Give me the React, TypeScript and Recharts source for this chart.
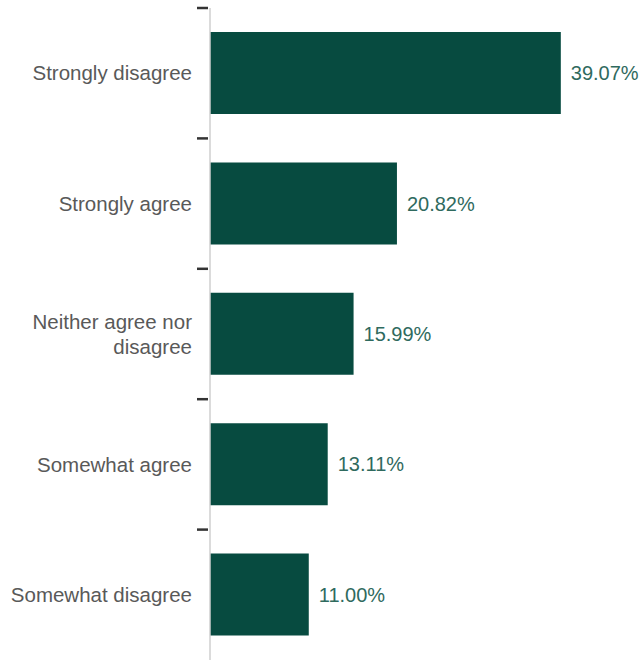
import React from 'react';
import { BarChart, Bar, XAxis, YAxis, LabelList } from 'recharts';

const categories = ['Strongly disagree', 'Strongly agree', 'Neither agree nor disagree', 'Somewhat agree', 'Somewhat disagree'];
const shares = [39.07, 20.82, 15.99, 13.11, 11.0];
const labelLines: Record<string, string[]> = {
  'Neither agree nor disagree': ['Neither agree nor', 'disagree'],
};

const data = categories.map((name, i) => ({ name, value: shares[i] }));

const FONT = '"Liberation Sans", Arial, sans-serif';

function CategoryTick(props: any) {
  const { x, y, payload } = props;
  const half = payload.offset || 65.2;
  const lines = labelLines[payload.value] || [payload.value];
  const lineH = 25;
  const startY = y - ((lines.length - 1) * lineH) / 2;
  return (
    <g>
      <line x1={x + 5} x2={x + 16} y1={y - half} y2={y - half} stroke="#333" strokeWidth={2.5} />
      <text textAnchor="end" fill="#595959" fontSize={20.5} fontFamily={FONT}>
        {lines.map((t, i) => (
          <tspan key={i} x={x} y={startY + i * lineH} dy="0.35em">{t}</tspan>
        ))}
      </text>
    </g>
  );
}

export default function App() {
  return (
    <div style={{ position: 'absolute', left: 0, top: 0, background: '#fff' }}>
      {/* Agreement breakdown */}
      <BarChart
        width={643}
        height={660}
        data={data}
        layout="vertical"
        margin={{ top: 8, right: 2, left: 0, bottom: 0 }}
        barSize={82}
      >
        <XAxis type="number" hide domain={[0, 48]} />
        <YAxis
          type="category"
          dataKey="name"
          width={210}
          tickSize={0}
          tickMargin={18}
          axisLine={{ stroke: '#cfcfcf', strokeWidth: 1.5 }}
          tickLine={false}
          tick={<CategoryTick />}
          interval={0}
        />
        <Bar dataKey="value" fill="#074b40" isAnimationActive={false}>
          <LabelList
            dataKey="value"
            position="right"
            offset={10}
            fill="#2f6a5e"
            fontSize={20}
            fontFamily={FONT}
            formatter={(v: any) => `${Number(v).toFixed(2)}%`}
          />
        </Bar>
      </BarChart>
    </div>
  );
}
